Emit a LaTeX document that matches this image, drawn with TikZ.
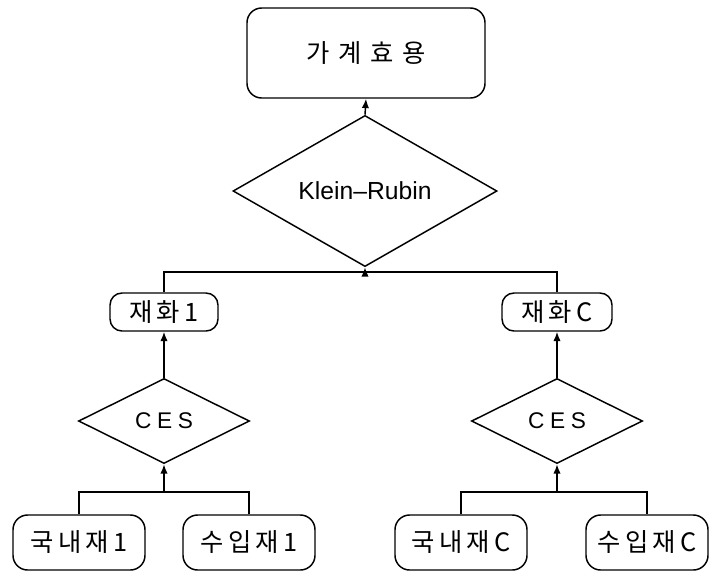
\documentclass[tikz,border=0pt]{standalone}
\usepackage{fontspec}
\usetikzlibrary{shapes.geometric,arrows.meta}
\newfontfamily\krA[LetterSpace=17]{Noto Sans CJK KR}
\newfontfamily\krTop[LetterSpace=34]{Noto Sans CJK KR}
\newfontfamily\latn{Liberation Sans}
\newfontfamily\latnsp[LetterSpace=25]{Liberation Sans}
\begin{document}
\begin{tikzpicture}[x=0.75pt,y=-0.75pt,
  every node/.style={inner sep=0pt, line width=1.1pt},
  rbox/.style={draw, rounded corners=11pt, align=center},
  dia/.style={draw, diamond, inner sep=0pt},
  conn/.style={line width=1.1pt},
  arr/.style={conn, -{Latex[length=7pt,width=5.5pt]}}]
\useasboundingbox (0,0) rectangle (710,572);
% nodes
\node[rbox, minimum width=238*0.75pt, minimum height=90*0.75pt] (top) at (366,53) {\fontsize{19}{21}\krTop 가계효용};
\node[dia, minimum width=264*0.75pt, minimum height=102*0.75pt] (kr) at (365,191) {\fontsize{18.5}{20}\latn Klein–Rubin};
\node[rbox, rounded corners=9pt, minimum width=108*0.75pt, minimum height=38*0.75pt] (g1) at (164,312) {\fontsize{19}{21}\krA 재화1};
\node[rbox, rounded corners=9pt, minimum width=110*0.75pt, minimum height=38*0.75pt] (gC) at (557,312) {\fontsize{19}{21}\krA 재화C};
\node[dia, minimum width=171*0.75pt, minimum height=85*0.75pt] (ces1) at (164,421) {\fontsize{17}{19}\latnsp CES};
\node[dia, minimum width=171*0.75pt, minimum height=85*0.75pt] (cesC) at (557,421) {\fontsize{17}{19}\latnsp CES};
\node[rbox, minimum width=132*0.75pt, minimum height=55*0.75pt] (d1) at (79,542.5) {\fontsize{19}{21}\krA 국내재1};
\node[rbox, minimum width=132*0.75pt, minimum height=55*0.75pt] (m1) at (249,542.5) {\fontsize{19}{21}\krA 수입재1};
\node[rbox, minimum width=132*0.75pt, minimum height=55*0.75pt] (dC) at (461,542.5) {\fontsize{19}{21}\krA 국내재C};
\node[rbox, minimum width=122*0.75pt, minimum height=55*0.75pt] (mC) at (647,542.5) {\fontsize{19}{21}\krA 수입재C};
% bus coordinates
\coordinate (busK) at (365,272);
\coordinate (bus1) at (164,492);
\coordinate (busC) at (557,492);
% connectors
\draw[arr] (kr.north) -- (top.south);
\draw[conn] (g1.north) |- (busK) -| (gC.north);
\draw[arr] (busK) -- (kr.south);
\draw[arr] (ces1.north) -- (g1.south);
\draw[arr] (cesC.north) -- (gC.south);
\draw[conn] (d1.north) |- (bus1) -| (m1.north);
\draw[arr] (bus1) -- (ces1.south);
\draw[conn] (dC.north) |- (busC) -| (mC.north);
\draw[arr] (busC) -- (cesC.south);
\end{tikzpicture}
\end{document}
